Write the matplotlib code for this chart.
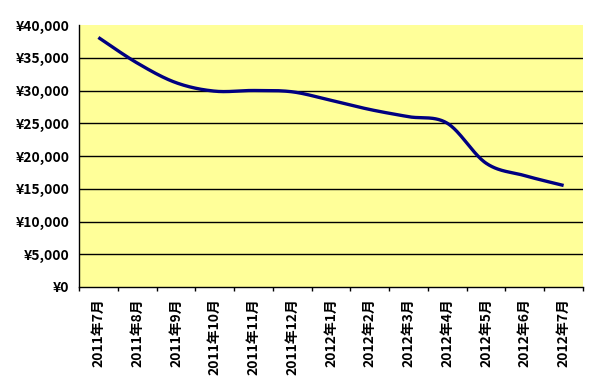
import numpy as np
import matplotlib
matplotlib.use("Agg")
import matplotlib.pyplot as plt
from matplotlib.ticker import FuncFormatter, FixedLocator

plt.rcParams['font.family'] = ['Noto Sans CJK JP', 'DejaVu Sans']
plt.rcParams['font.weight'] = 'bold'

months = ["2011年7月", "2011年8月", "2011年9月", "2011年10月", "2011年11月", "2011年12月",
          "2012年1月", "2012年2月", "2012年3月", "2012年4月", "2012年5月", "2012年6月", "2012年7月"]
prices = [38100, 34200, 31200, 29900, 30000, 29800, 28500, 27100, 26000, 25000, 18900, 17000, 15500]
y_ticks = [0, 5000, 10000, 15000, 20000, 25000, 30000, 35000, 40000]


def smooth(xs, ys, n=40):
    xs = np.asarray(xs, float)
    ys = np.asarray(ys, float)
    P = np.column_stack([xs, ys])
    out = []
    m = len(P)
    for i in range(m - 1):
        p0 = P[i - 1] if i > 0 else P[i]
        p1 = P[i]
        p2 = P[i + 1]
        p3 = P[i + 2] if i + 2 < m else P[i + 1]
        c1 = p1 + (p2 - p0) / 6.0
        c2 = p2 - (p3 - p1) / 6.0
        t = np.linspace(0, 1, n, endpoint=(i == m - 2))[:, None]
        seg = ((1 - t) ** 3) * p1 + 3 * ((1 - t) ** 2) * t * c1 + 3 * (1 - t) * t ** 2 * c2 + t ** 3 * p2
        out.append(seg)
    out = np.vstack(out)
    return out[:, 0], out[:, 1]


fig = plt.figure(figsize=(6.07, 3.92), dpi=100)
ax = fig.add_axes([79 / 607, 1 - 287 / 392, (583 - 79) / 607, (287 - 25) / 392])
ax.set_facecolor('#FFFF99')

x = np.arange(len(months))
sx, sy = smooth(x, prices)
ax.plot(sx, sy, color='#000080', lw=2.4, solid_capstyle='butt', zorder=3)

ax.set_xlim(-0.5, len(months) - 0.5)
ax.set_ylim(0, 40000)

for v in y_ticks[1:-1]:
    ax.axhline(v, color='black', lw=1.0, zorder=1)

ax.yaxis.set_major_locator(FixedLocator(y_ticks))
ax.yaxis.set_major_formatter(FuncFormatter(lambda v, p: "¥{:,.0f}".format(v)))
ax.tick_params(axis='y', length=0, pad=7, labelsize=10)

ax.xaxis.set_major_locator(FixedLocator(np.arange(len(months) + 1) - 0.5))
ax.xaxis.set_minor_locator(FixedLocator(x))
ax.set_xticklabels([])
ax.set_xticklabels(months, minor=True, rotation=90, ha='center', va='top')
ax.tick_params(axis='x', which='major', length=3, width=1, direction='out')
ax.tick_params(axis='x', which='minor', length=0, pad=8, labelsize=10)

for s in ['top', 'right']:
    ax.spines[s].set_visible(False)
for s in ['left', 'bottom']:
    ax.spines[s].set_linewidth(1.0)

fig.savefig('out.png', dpi=100)
